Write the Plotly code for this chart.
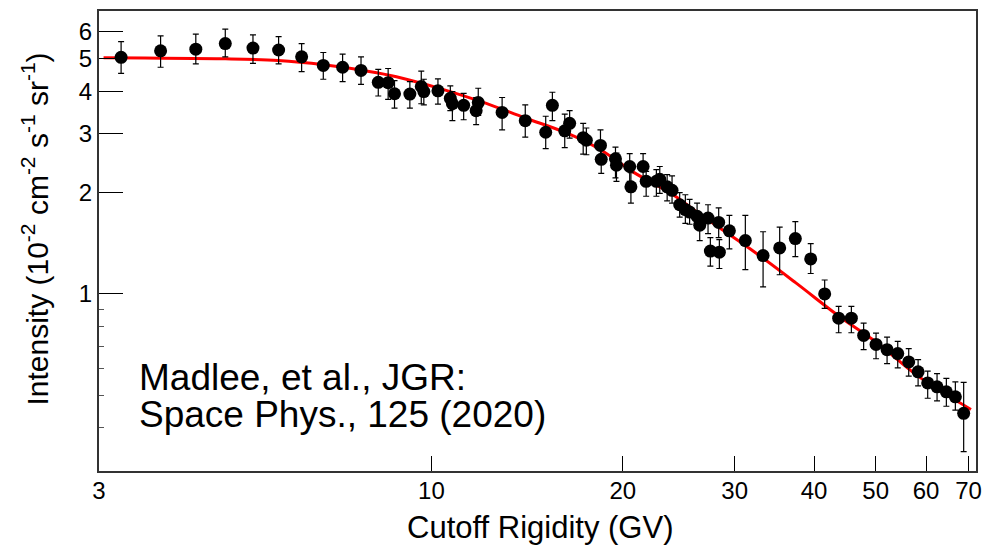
import math
import plotly.graph_objects as go

# ---- data ----
rigidity = [3.25, 3.75, 4.26, 4.74, 5.24, 5.75, 6.25, 6.76, 7.25, 7.75,
            8.25, 8.55, 8.75, 9.25, 9.64, 9.73, 10.24, 10.71, 10.79, 11.24,
            11.76, 11.85, 12.92, 14.05, 15.13, 15.50, 16.21, 16.50, 17.33, 17.53,
            18.45, 18.5, 19.48, 19.55, 20.51, 20.6, 21.53, 21.77, 22.59, 22.87,
            23.49, 23.91, 24.58, 25.09, 25.48, 26.18, 26.43, 27.24, 27.47, 28.31,
            28.38, 29.43, 31.18, 33.25, 35.31, 37.37, 39.51, 41.56, 43.72, 45.78,
            47.86, 50.06, 52.1, 54.15, 56.35, 58.3, 60.36, 62.44, 64.58, 66.72, 68.76]

intensity = [5.04, 5.27, 5.33, 5.54, 5.37, 5.30, 5.06, 4.77, 4.71, 4.61,
             4.25, 4.24, 3.93, 3.92, 4.13, 3.99, 4.01, 3.81, 3.67, 3.63,
             3.50, 3.70, 3.46, 3.27, 3.02, 3.63, 3.05, 3.21, 2.91, 2.86,
             2.76, 2.51, 2.52, 2.41, 2.39, 2.08, 2.39, 2.16, 2.16, 2.19,
             2.08, 2.03, 1.84, 1.78, 1.75, 1.70, 1.60, 1.68, 1.34, 1.63,
             1.33, 1.54, 1.44, 1.30, 1.37, 1.46, 1.27, 1.00, 0.847, 0.847,
             0.753, 0.708, 0.683, 0.665, 0.628, 0.587, 0.544, 0.530, 0.512, 0.495, 0.442]

bar_top = [5.61, 5.84, 5.91, 6.11, 5.88, 5.81, 5.54, 5.21, 5.15, 5.06,
           4.64, 4.67, 4.30, 4.27, 4.59, 4.34, 4.35, 4.15, 3.99, 3.94,
           3.83, 4.08, 3.83, 3.64, 3.37, 3.97, 3.42, 3.50, 3.21, 3.11,
           3.07, 2.78, 2.73, 2.62, 2.61, 2.29, 2.61, 2.31, 2.34, 2.39,
           2.26, 2.24, 2.00, 1.97, 1.91, 1.86, 1.72, 1.84, 1.47, 1.80,
           1.45, 1.71, 1.71, 1.53, 1.58, 1.64, 1.41, 1.10, 0.919, 0.919,
           0.819, 0.765, 0.744, 0.723, 0.688, 0.638, 0.590, 0.580, 0.561, 0.548, 0.546]

bar_bottom = [4.52, 4.71, 4.82, 5.06, 4.84, 4.82, 4.57, 4.34, 4.27, 4.19,
              3.87, 3.78, 3.56, 3.56, 3.67, 3.64, 3.66, 3.50, 3.27, 3.29,
              3.18, 3.39, 3.07, 2.92, 2.70, 3.27, 2.72, 2.90, 2.60, 2.59,
              2.48, 2.28, 2.21, 2.16, 2.16, 1.86, 2.19, 1.95, 1.95, 1.99,
              1.89, 1.86, 1.69, 1.62, 1.61, 1.57, 1.44, 1.51, 1.21, 1.47,
              1.19, 1.36, 1.18, 1.05, 1.14, 1.29, 1.15, 0.906, 0.767, 0.767,
              0.683, 0.642, 0.621, 0.603, 0.570, 0.533, 0.490, 0.481, 0.464, 0.452, 0.340]

fit_rigidity = [3.05, 4.74, 5.74, 6.77, 7.75, 8.62, 9.61, 10.33, 11.94, 14.05,
                16.35, 18.45, 20.78, 23.9, 26.5, 31.75, 37.4, 43.72, 50.06, 58.3, 70.6]
fit_intensity = [5.03, 4.99, 4.93, 4.79, 4.62, 4.45, 4.23, 4.07, 3.73, 3.33,
                 3.00, 2.68, 2.30, 1.98, 1.72, 1.36, 1.08, 0.86, 0.72, 0.57, 0.454]

x_ticks = [3, 10, 20, 30, 40, 50, 60, 70]
y_ticks = [1, 2, 3, 4, 5, 6]
y_minor = [0.3, 0.4, 0.5, 0.6, 0.7, 0.8, 0.9]

err_plus = [t - v for t, v in zip(bar_top, intensity)]
err_minus = [v - b for v, b in zip(intensity, bar_bottom)]

FONT = "Liberation Sans, Arial, Helvetica, sans-serif"

fig = go.Figure()
fig.add_trace(go.Scatter(
    x=fit_rigidity, y=fit_intensity, mode="lines",
    line=dict(color="#ff0000", width=3, shape="spline", smoothing=1.0),
    hoverinfo="skip", showlegend=False))
fig.add_trace(go.Scatter(
    x=rigidity, y=intensity, mode="markers",
    marker=dict(color="black", size=13, line=dict(width=0)),
    error_y=dict(type="data", symmetric=False, array=err_plus, arrayminus=err_minus,
                 color="black", thickness=1.2, width=3),
    showlegend=False))

fig.update_layout(
    width=1000, height=545,
    margin=dict(l=99, r=24, t=9, b=74),
    paper_bgcolor="white", plot_bgcolor="white",
    font=dict(family=FONT, color="black", size=24),
    showlegend=False,
)
fig.update_xaxes(
    type="log", range=[math.log10(3), math.log10(71.9)],
    tickmode="array", tickvals=x_ticks, ticktext=[str(v) for v in x_ticks],
    ticks="inside", ticklen=15, tickwidth=1, tickcolor="black",
    ticklabelstandoff=-3,
    showgrid=False, zeroline=False,
    showline=True, linecolor="#333333", linewidth=2, mirror=True,
    tickfont=dict(size=24, family=FONT),
)
fig.update_yaxes(
    type="log", range=[math.log10(0.298), math.log10(6.92)],
    tickmode="array", tickvals=y_ticks, ticktext=[str(v) for v in y_ticks],
    ticks="inside", ticklen=24, tickwidth=1, tickcolor="black",
    minor=dict(tickmode="array", tickvals=y_minor, ticks="inside", ticklen=5,
               tickwidth=1, tickcolor="#555555", showgrid=False),
    showgrid=False, zeroline=False,
    showline=True, linecolor="#333333", linewidth=2, mirror=True,
    tickfont=dict(size=24, family=FONT),
)

fig.add_annotation(
    text="Cutoff Rigidity (GV)", xref="paper", yref="paper",
    x=0.503, y=-0.1234, xanchor="center", yanchor="middle",
    showarrow=False, font=dict(size=31, family=FONT, color="black"))
fig.add_annotation(
    text="Intensity (10<sup>-2</sup> cm<sup>-2</sup> s<sup>-1</sup> sr<sup>-1</sup>)",
    xref="paper", yref="paper", x=-0.073, y=0.527, xanchor="center", yanchor="middle",
    textangle=-90, showarrow=False, font=dict(size=30, family=FONT, color="black"))
fig.add_annotation(
    text="Madlee, et al., JGR:", xref="paper", yref="paper",
    x=0.0433, y=(471 - 377) / 462, xanchor="left", yanchor="middle",
    showarrow=False, font=dict(size=37, family=FONT, color="black"))
fig.add_annotation(
    text="Space Phys., 125 (2020)", xref="paper", yref="paper",
    x=0.0433, y=(471 - 414) / 462, xanchor="left", yanchor="middle",
    showarrow=False, font=dict(size=37, family=FONT, color="black"))

fig.write_html("out.html")
